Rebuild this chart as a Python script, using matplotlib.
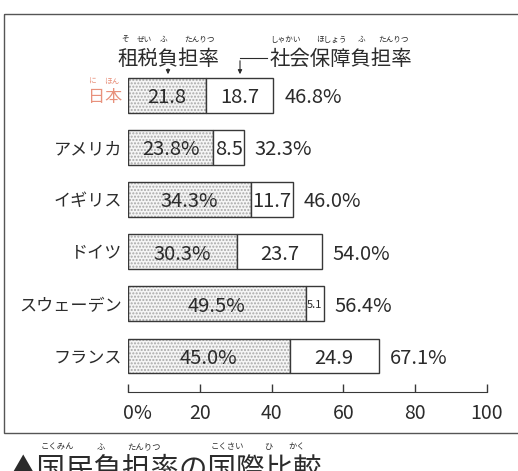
import numpy as np
import matplotlib.pyplot as plt
from matplotlib.patches import Rectangle

plt.rcParams['font.family'] = ['Noto Sans CJK JP', 'DejaVu Sans']

countries = ["日本", "アメリカ", "イギリス", "ドイツ", "スウェーデン", "フランス"]
tax_rate = [21.8, 23.8, 34.3, 30.3, 49.5, 45.0]
social_rate = [18.7, 8.5, 11.7, 23.7, 5.1, 24.9]
total_labels = ["46.8%", "32.3%", "46.0%", "54.0%", "56.4%", "67.1%"]
tax_labels = ["21.8", "23.8%", "34.3%", "30.3%", "49.5%", "45.0%"]
social_labels = ["18.7", "8.5", "11.7", "23.7", "5.1", "24.9"]
xticks = [0, 20, 40, 60, 80, 100]
xtick_labels = ["0%", "20", "40", "60", "80", "100"]

ink = '#2b2b2b'
edge = '#383838'
japan_col = '#e8917c'

fig = plt.figure(figsize=(5.18, 4.71), dpi=100)

# decoration layer in pixel coords (y down)
deco = fig.add_axes([0, 0, 1, 1])
deco.set_xlim(0, 518)
deco.set_ylim(471, 0)
deco.axis('off')

ax = fig.add_axes([128 / 518, 1 - 392 / 471, (487 - 128) / 518, (392 - 63.7) / 471])
ax.patch.set_alpha(0)

y = np.arange(len(countries))
h = 0.67

# stippled tax part: hatch layer then outline
ax.barh(y, tax_rate, height=h, color='#f5f5f5', edgecolor='#a8a8a8',
        hatch='.....', linewidth=0)
ax.barh(y, tax_rate, height=h, fill=False, edgecolor=edge, linewidth=1.0)
ax.barh(y, social_rate, left=tax_rate, height=h, color='white',
        edgecolor=edge, linewidth=1.0)

for i in range(len(countries)):
    ax.text(tax_rate[i] / 2, y[i], tax_labels[i], ha='center', va='center_baseline',
            fontsize=14.5, color=ink)
    fs = 8 if social_rate[i] < 7 else 14.5
    ax.text(tax_rate[i] + social_rate[i] / 2, y[i], social_labels[i],
            ha='center', va='center_baseline', fontsize=fs, color=ink)
    ax.text(tax_rate[i] + social_rate[i] + 3, y[i], total_labels[i],
            ha='left', va='center_baseline', fontsize=14.5, color=ink)

ax.set_xlim(0, 100)
ax.set_ylim(5.69, -0.6)
ax.set_yticks(y)
ax.set_yticklabels(countries, fontsize=12.3, color=ink)
ax.get_yticklabels()[0].set_color(japan_col)
ax.set_xticks(xticks)
ax.set_xticklabels([t.rstrip('%') for t in xtick_labels], fontsize=14, color=ink)
ax.annotate("%", xy=(0, 0), xycoords=('data', 'axes fraction'),
            xytext=(3.9, -8), textcoords='offset points', ha='left', va='top',
            fontsize=14, color=ink)
ax.tick_params(axis='y', length=0, pad=4)
ax.tick_params(axis='x', direction='in', length=6, width=1.0, color=edge, pad=8)
for s in ['top', 'right', 'left']:
    ax.spines[s].set_visible(False)
ax.spines['bottom'].set_color(edge)

# frame
deco.add_patch(Rectangle((4, 14), 530, 419, fill=False, edgecolor='#555555', linewidth=1.0))

# headers
deco.text(117, 57, "租税負担率", ha='left', va='center_baseline', fontsize=14.7, color=ink)
deco.text(270, 57, "社会保障負担率", ha='left', va='center_baseline', fontsize=14.7, color=ink)
for xx, s in [(125, "そ"), (144, "ぜい"), (163, "ふ"), (199, "たんりつ"),
              (285, "しゃかい"), (331, "ほしょう"), (362, "ふ"), (393, "たんりつ")]:
    deco.text(xx, 40, s, ha='center', va='center', fontsize=5.5, color=ink)
deco.annotate("", xy=(168, 77), xytext=(168, 66),
              arrowprops=dict(arrowstyle='-|>', color=ink, lw=0.8, mutation_scale=6))
deco.plot([267, 240], [58, 58], color=ink, lw=0.8)
deco.annotate("", xy=(240, 77), xytext=(240, 58),
              arrowprops=dict(arrowstyle='-|>', color=ink, lw=0.8, mutation_scale=6))

# furigana for Japan
deco.text(92, 82, "に", ha='center', va='center', fontsize=5.5, color=japan_col)
deco.text(112, 82, "ほん", ha='center', va='center', fontsize=5.5, color=japan_col)

# caption (cut at bottom edge as in the source)
deco.text(8, 455, "▲国民負担率の国際比較", ha='left', va='top', fontsize=20.5, color=ink)
for xx, s in [(57, "こくみん"), (101, "ふ"), (144, "たんりつ"),
              (227, "こくさい"), (268, "ひ"), (297, "かく")]:
    deco.text(xx, 447, s, ha='center', va='center', fontsize=6, color=ink)

fig.savefig("out.png", dpi=100)
